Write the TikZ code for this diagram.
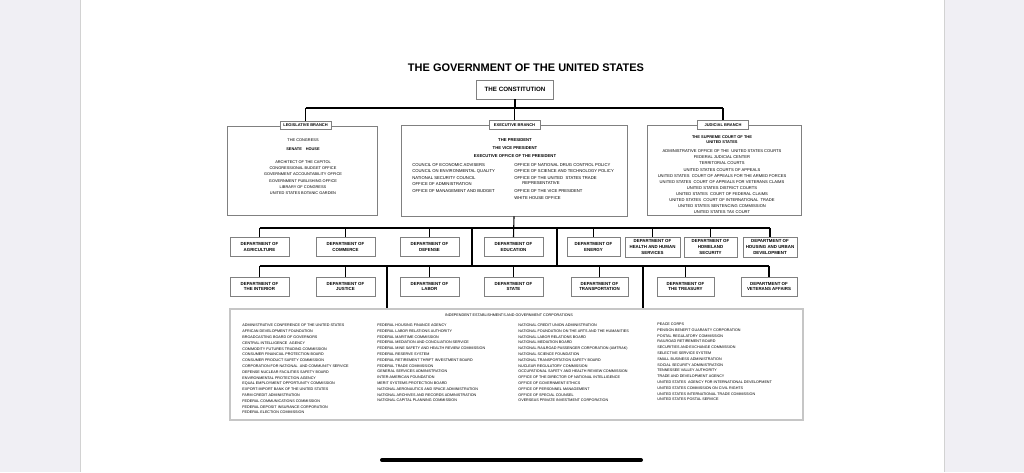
\documentclass[tikz,border=0pt]{standalone}
\usepackage{fontspec}
\setmainfont{Liberation Sans}
\definecolor{backdrop}{HTML}{F0EFF4}
\definecolor{frame}{HTML}{808080}
\newcommand{\fsz}[2]{\fontsize{#1}{#2}\selectfont}
\begin{document}
\begin{tikzpicture}[
 x=1pt, y=-1pt,
 thick,
 branch/.style={draw=frame, line width=0.7pt, inner sep=0pt},
 tag/.style={draw=frame, line width=0.7pt, fill=white, inner sep=0pt, minimum width=51pt, minimum height=8.5pt, font=\fsz{4}{5}\bfseries},
 dept/.style={draw=frame, line width=0.7pt, inner sep=0pt, minimum height=19pt, align=center, font=\fsz{4.4}{5.9}\bfseries},
 list/.style={inner sep=0pt, align=center, font=\fsz{3.9}{6.1}},
 col/.style={inner sep=0pt, anchor=north west, align=left, font=\fsz{3.7}{5.8}},
 link/.style={line width=1.1pt}
]
\useasboundingbox (0,0) rectangle (1024,472);
\fill[backdrop] (0,0) rectangle (1024,472);
\fill[white] (80,0) rectangle (944,472);
\draw[gray!35, line width=0.8pt] (80,0) -- (80,472);
\draw[gray!35, line width=0.8pt] (944,0) -- (944,472);
\draw[line width=4pt, line cap=round] (382,460) -- (641,460);

\node[font=\fsz{11}{12}\bfseries] (title) at (526,68) {THE GOVERNMENT OF THE UNITED STATES};
\node[draw=frame, line width=0.7pt, minimum width=77pt, minimum height=19pt, inner sep=0pt, font=\fsz{6.2}{7}\bfseries] (const) at (515,89.5) {THE CONSTITUTION};

\coordinate (topbar) at (0,108);
\coordinate (rowA) at (0,228);
\coordinate (rowB) at (0,266);
\coordinate (linkL) at (472,0);
\coordinate (linkR) at (557,0);
\coordinate (dropL) at (387,0);
\coordinate (dropR) at (643,0);

\begin{scope}
\node[branch, minimum width=150pt, minimum height=89pt] (leg) at (302,170.5) {};
\node[tag] (legtag) at (305.5,125.5) {LEGISLATIVE BRANCH};
\node[list] (congress) at (303,140) {THE CONGRESS};
\node[list, font=\fsz{3.9}{6.1}\bfseries] (houses) at (303,149) {SENATE\quad HOUSE};
\node[list, anchor=north] (legoff) at (303,160.6) {ARCHITECT OF THE CAPITOL\\CONGRESSIONAL BUDGET OFFICE\\GOVERNMENT ACCOUNTABILITY OFFICE\\GOVERNMENT PUBLISHING OFFICE\\LIBRARY OF CONGRESS\\UNITED STATES BOTANIC GARDEN};
\end{scope}

\begin{scope}
\node[branch, minimum width=226pt, minimum height=91pt] (exec) at (514,170.5) {};
\node[tag] (exectag) at (514.5,125) {EXECUTIVE BRANCH};
\node[list, font=\fsz{4.2}{6}\bfseries] (pres) at (515,140) {THE PRESIDENT};
\node[list, font=\fsz{4.2}{6}\bfseries] (vpres) at (515,148) {THE VICE PRESIDENT};
\node[list, font=\fsz{4.2}{6}\bfseries] (eop) at (515,156) {EXECUTIVE OFFICE OF THE PRESIDENT};
\node[col, font=\fsz{4.2}{6.6}] (eopL) at (412,162.8) {COUNCIL OF ECONOMIC ADVISERS\\COUNCIL ON ENVIRONMENTAL QUALITY\\NATIONAL SECURITY COUNCIL\\OFFICE OF ADMINISTRATION\\OFFICE OF MANAGEMENT AND BUDGET};
\node[col, font=\fsz{4.2}{6.6}] (eopR) at (514,162.8) {OFFICE OF NATIONAL DRUG CONTROL POLICY\\OFFICE OF SCIENCE AND TECHNOLOGY POLICY\\OFFICE OF THE UNITED\ \ STATES TRADE\\[-1.2pt]\hspace*{8pt}REPRESENTATIVE\\[1.2pt]OFFICE OF THE VICE PRESIDENT\\[0.4pt]WHITE HOUSE OFFICE};
\end{scope}

\begin{scope}
\node[branch, minimum width=154pt, minimum height=90pt] (jud) at (724,170) {};
\node[tag] (judtag) at (723,125) {JUDICIAL BRANCH};
\node[list, anchor=north, font=\fsz{4}{5}\bfseries] (scotus) at (722,135.5) {THE SUPREME COURT OF THE\\UNITED STATES};
\node[list, anchor=north, font=\fsz{4.1}{6.1}] (courts) at (722,149.5) {ADMINISTRATIVE OFFICE OF THE\ \ UNITED STATES COURTS\\FEDERAL JUDICIAL CENTER\\TERRITORIAL COURTS\\UNITED STATES COURTS OF APPEALS\\UNITED STATES\ \ COURT OF APPEALS FOR THE ARMED FORCES\\UNITED STATES\ \ COURT OF APPEALS FOR VETERANS CLAIMS\\UNITED STATES DISTRICT COURTS\\UNITED STATES\ \ COURT OF FEDERAL CLAIMS\\UNITED STATES\ \ COURT OF INTERNATIONAL\ \ TRADE\\UNITED STATES SENTENCING COMMISSION\\UNITED STATES TAX COURT};
\end{scope}

\node[dept, minimum width=59pt] (agr) at (259.5,247) {DEPARTMENT OF\\AGRICULTURE};
\node[dept, minimum width=59pt] (com) at (345.5,247) {DEPARTMENT OF\\COMMERCE};
\node[dept, minimum width=59pt] (def) at (429.5,247) {DEPARTMENT OF\\DEFENSE};
\node[dept, minimum width=59pt] (edu) at (513.5,247) {DEPARTMENT OF\\EDUCATION};
\node[dept, minimum width=53pt] (ene) at (593.5,247) {DEPARTMENT OF\\ENERGY};
\node[dept, minimum width=55pt, minimum height=20pt] (hhs) at (652.5,247) {DEPARTMENT OF\\HEALTH AND HUMAN\\SERVICES};
\node[dept, minimum width=53pt, minimum height=20pt] (dhs) at (710.5,247) {DEPARTMENT OF\\HOMELAND\\SECURITY};
\node[dept, minimum width=54pt, minimum height=20pt] (hud) at (770,247) {DEPARTMENT OF\\HOUSING AND URBAN\\DEVELOPMENT};

\node[dept, minimum width=59pt] (int) at (259.5,286.5) {DEPARTMENT OF\\THE INTERIOR};
\node[dept, minimum width=59pt] (jus) at (345.5,286.5) {DEPARTMENT OF\\JUSTICE};
\node[dept, minimum width=59pt] (lab) at (429.5,286.5) {DEPARTMENT OF\\LABOR};
\node[dept, minimum width=59pt] (sta) at (513.5,286.5) {DEPARTMENT OF\\STATE};
\node[dept, minimum width=57pt] (tra) at (599.5,286.5) {DEPARTMENT OF\\TRANSPORTATION};
\node[dept, minimum width=57pt] (tre) at (685.5,286.5) {DEPARTMENT OF\\THE TREASURY};
\node[dept, minimum width=56pt] (vet) at (769,286.5) {DEPARTMENT OF\\VETERANS AFFAIRS};

\begin{scope}
\node[draw=gray!45, line width=1.3pt, minimum width=573pt, minimum height=111pt, inner sep=0pt] (ind) at (516.5,364.5) {};
\node[list, font=\fsz{3.7}{5}] (indhead) at (509,315) {INDEPENDENT ESTABLISHMENTS AND GOVERNMENT CORPORATIONS};
\node[col] (indA) at (242,324) {ADMINISTRATIVE CONFERENCE OF THE UNITED STATES\\AFRICAN DEVELOPMENT FOUNDATION\\BROADCASTING BOARD OF GOVERNORS\\CENTRAL INTELLIGENCE\ \ AGENCY\\COMMODITY FUTURES TRADING COMMISSION\\CONSUMER FINANCIAL PROTECTION BOARD\\CONSUMER PRODUCT SAFETY COMMISSION\\CORPORATION FOR NATIONAL\ \ AND COMMUNITY SERVICE\\DEFENSE NUCLEAR FACILITIES SAFETY BOARD\\ENVIRONMENTAL PROTECTION AGENCY\\EQUAL EMPLOYMENT OPPORTUNITY COMMISSION\\EXPORT-IMPORT BANK OF THE UNITED STATES\\FARM CREDIT ADMINISTRATION\\FEDERAL COMMUNICATIONS COMMISSION\\FEDERAL DEPOSIT INSURANCE CORPORATION\\FEDERAL ELECTION COMMISSION};
\node[col] (indB) at (377,323.5) {FEDERAL HOUSING FINANCE AGENCY\\FEDERAL LABOR RELATIONS AUTHORITY\\FEDERAL MARITIME COMMISSION\\FEDERAL MEDIATION AND CONCILIATION SERVICE\\FEDERAL MINE SAFETY AND HEALTH REVIEW COMMISSION\\FEDERAL RESERVE SYSTEM\\FEDERAL RETIREMENT THRIFT INVESTMENT BOARD\\FEDERAL TRADE COMMISSION\\GENERAL SERVICES ADMINISTRATION\\INTER-AMERICAN FOUNDATION\\MERIT SYSTEMS PROTECTION BOARD\\NATIONAL AERONAUTICS AND SPACE ADMINISTRATION\\NATIONAL ARCHIVES AND RECORDS ADMINISTRATION\\NATIONAL CAPITAL PLANNING COMMISSION};
\node[col] (indC) at (518,323.5) {NATIONAL CREDIT UNION ADMINISTRATION\\NATIONAL FOUNDATION ON THE ARTS AND THE HUMANITIES\\NATIONAL LABOR RELATIONS BOARD\\NATIONAL MEDIATION BOARD\\NATIONAL RAILROAD PASSENGER CORPORATION (AMTRAK)\\NATIONAL SCIENCE FOUNDATION\\NATIONAL TRANSPORTATION SAFETY BOARD\\NUCLEAR REGULATORY COMMISSION\\OCCUPATIONAL SAFETY AND HEALTH REVIEW COMMISSION\\OFFICE OF THE DIRECTOR OF NATIONAL INTELLIGENCE\\OFFICE OF GOVERNMENT ETHICS\\OFFICE OF PERSONNEL MANAGEMENT\\OFFICE OF SPECIAL COUNSEL\\OVERSEAS PRIVATE INVESTMENT CORPORATION};
\node[col] (indD) at (657,322.5) {PEACE CORPS\\PENSION BENEFIT GUARANTY CORPORATION\\POSTAL REGULATORY COMMISSION\\RAILROAD RETIREMENT BOARD\\SECURITIES AND EXCHANGE COMMISSION\\SELECTIVE SERVICE SYSTEM\\SMALL BUSINESS ADMINISTRATION\\SOCIAL SECURITY ADMINISTRATION\\TENNESSEE VALLEY AUTHORITY\\TRADE AND DEVELOPMENT AGENCY\\UNITED STATES\ \ AGENCY FOR INTERNATIONAL DEVELOPMENT\\UNITED STATES COMMISSION ON CIVIL RIGHTS\\UNITED STATES INTERNATIONAL TRADE COMMISSION\\UNITED STATES POSTAL SERVICE};
\end{scope}

\draw[link] (const.south) -- (const.south |- topbar);
\draw[link] (legtag.north |- topbar) -- (judtag.north |- topbar);
\foreach \t in {legtag,exectag,judtag}
 \draw[link] (\t.north) -- (\t.north |- topbar);
\draw[link] (exec.south) -- (edu.north);
\draw[link] (agr.north |- rowA) -- (hud.north |- rowA);
\foreach \d in {agr,com,def,ene,hhs,dhs,hud}
 \draw[link] (\d.north) -- (\d.north |- rowA);
\draw[link] (int.north |- rowB) -- (vet.north |- rowB);
\foreach \d in {int,jus,lab,sta,tra,tre,vet}
 \draw[link] (\d.north) -- (\d.north |- rowB);
\foreach \c in {linkL,linkR}
 \draw[link] (rowA -| \c) -- (rowB -| \c);
\foreach \c in {dropL,dropR}
 \draw[link] (rowB -| \c) -- (ind.north -| \c);
\end{tikzpicture}
\end{document}
